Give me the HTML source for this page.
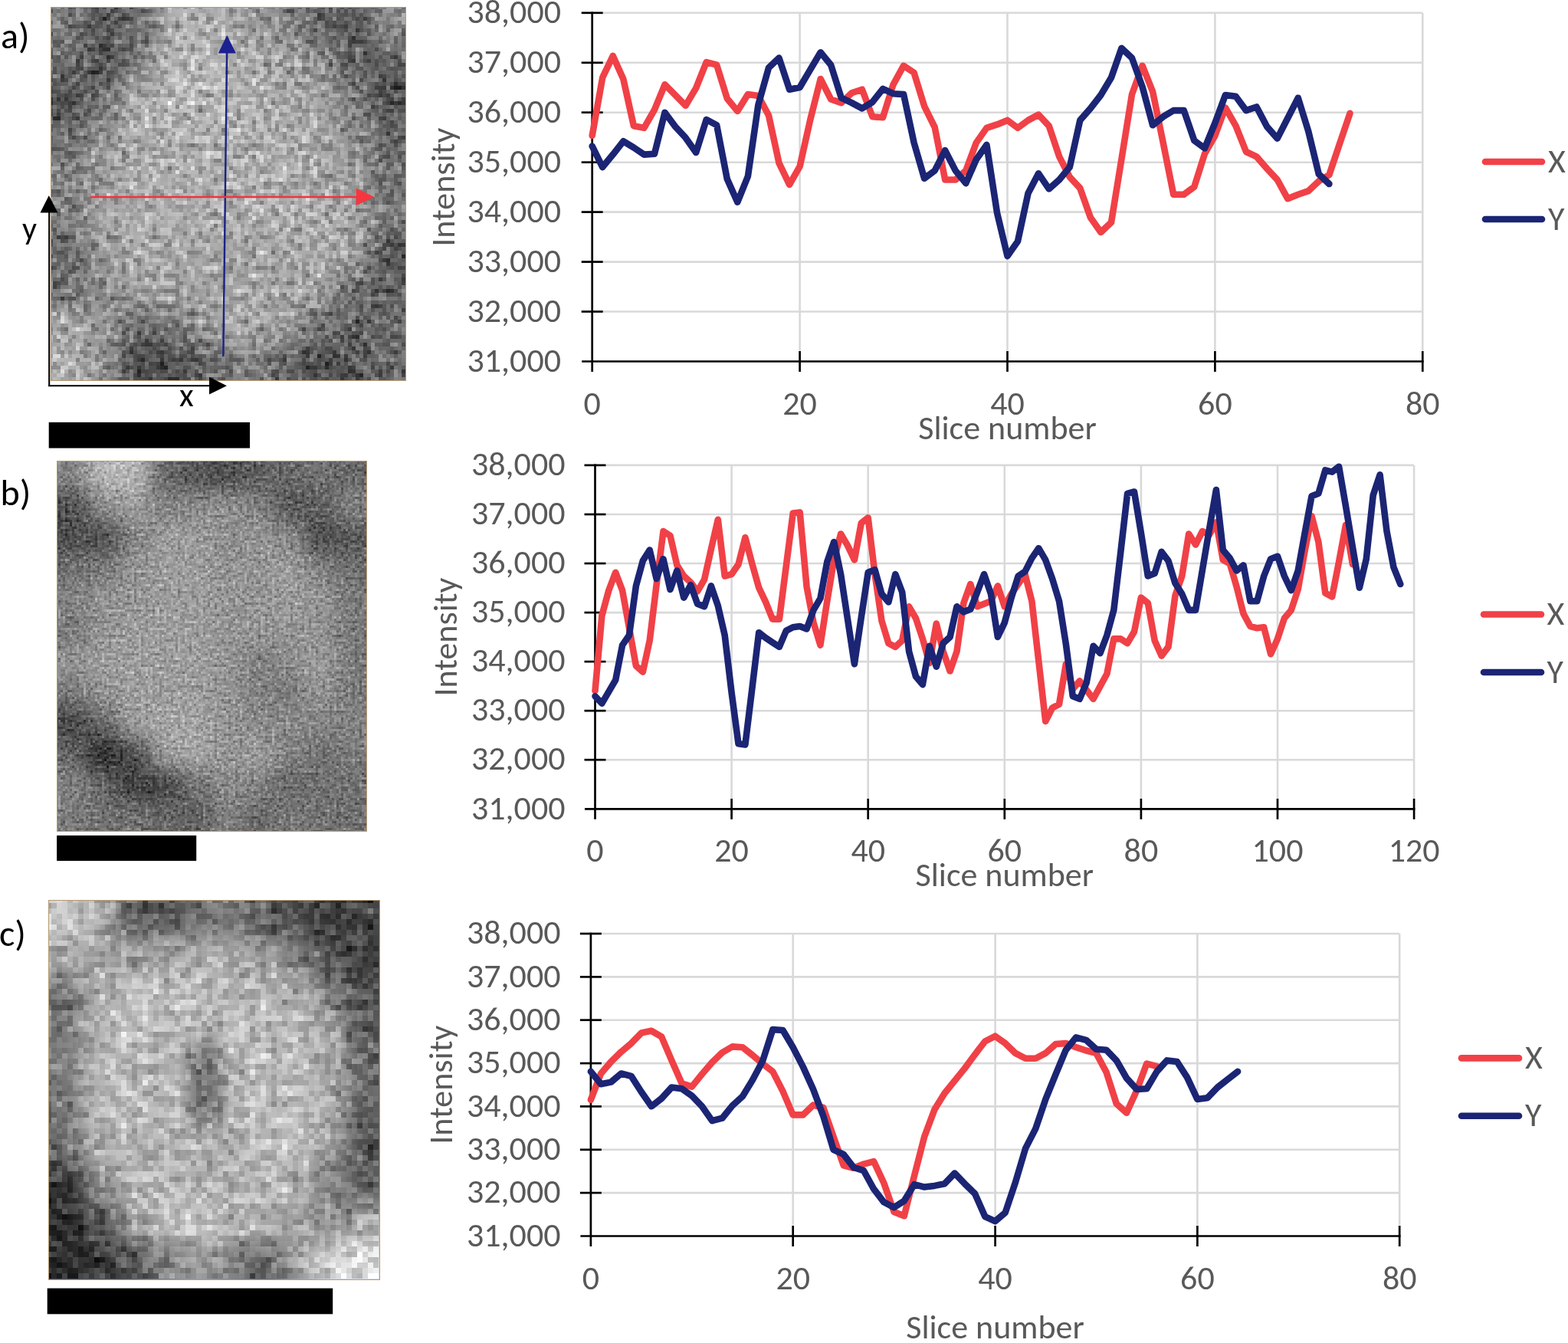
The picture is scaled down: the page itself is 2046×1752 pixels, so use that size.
<!DOCTYPE html>
<html><head><meta charset="utf-8"><title>Intensity profiles</title>
<style>
html,body{margin:0;padding:0;background:#fff;}
body{width:2046px;height:1752px;overflow:hidden;position:relative;}
svg{position:absolute;left:0;top:0;display:block;}
.ch text{font-family:Carlito, "Liberation Sans", sans-serif;font-size:44px;fill:#595959;}
.lb text{font-family:Carlito, "Liberation Sans", sans-serif;font-size:44px;fill:#000;}
</style></head><body>
<svg width="2046" height="1752" viewBox="0 0 2046 1752">
<clipPath id="cla"><rect x="66" y="9" width="464" height="488"/></clipPath>
<filter id="ba" filterUnits="userSpaceOnUse" x="6" y="-51" width="584" height="608" color-interpolation-filters="sRGB"><feGaussianBlur stdDeviation="14.8"/></filter>
<filter id="fa" filterUnits="userSpaceOnUse" x="66" y="9" width="464" height="488" color-interpolation-filters="sRGB">
<feTurbulence type="fractalNoise" baseFrequency="0.1013" numOctaves="2" seed="7" result="t"/>
<feColorMatrix in="t" type="matrix" values="1 0 0 0 0 1 0 0 0 0 1 0 0 0 0 0 0 0 0 1" result="n"/>
<feFlood x="66" y="9" width="1" height="1" flood-color="#fff" result="dot"/>
<feComposite in="dot" in2="dot" operator="over" x="66" y="9" width="5" height="5" result="cell"/>
<feTile in="cell" result="grid"/>
<feComposite in="n" in2="grid" operator="in" result="smp"/>
<feMorphology in="smp" operator="dilate" radius="2" result="pix"/>
<feComposite in="SourceGraphic" in2="pix" operator="arithmetic" k1="0" k2="1" k3="0.75" k4="-0.375"/>
</filter>
<g clip-path="url(#cla)"><g filter="url(#fa)"><g filter="url(#ba)">
<rect x="19.6" y="-39.8" width="47.0" height="49.4" fill="rgb(121,121,121)"/>
<rect x="66.0" y="-39.8" width="47.0" height="49.4" fill="rgb(121,121,121)"/>
<rect x="112.4" y="-39.8" width="47.0" height="49.4" fill="rgb(86,86,86)"/>
<rect x="158.8" y="-39.8" width="47.0" height="49.4" fill="rgb(112,112,112)"/>
<rect x="205.2" y="-39.8" width="47.0" height="49.4" fill="rgb(174,174,174)"/>
<rect x="251.6" y="-39.8" width="47.0" height="49.4" fill="rgb(174,174,174)"/>
<rect x="298.0" y="-39.8" width="47.0" height="49.4" fill="rgb(156,156,156)"/>
<rect x="344.4" y="-39.8" width="47.0" height="49.4" fill="rgb(139,139,139)"/>
<rect x="390.8" y="-39.8" width="47.0" height="49.4" fill="rgb(104,104,104)"/>
<rect x="437.2" y="-39.8" width="47.0" height="49.4" fill="rgb(86,86,86)"/>
<rect x="483.6" y="-39.8" width="47.0" height="49.4" fill="rgb(139,139,139)"/>
<rect x="530.0" y="-39.8" width="47.0" height="49.4" fill="rgb(139,139,139)"/>
<rect x="19.6" y="9.0" width="47.0" height="49.4" fill="rgb(121,121,121)"/>
<rect x="66.0" y="9.0" width="47.0" height="49.4" fill="rgb(121,121,121)"/>
<rect x="112.4" y="9.0" width="47.0" height="49.4" fill="rgb(86,86,86)"/>
<rect x="158.8" y="9.0" width="47.0" height="49.4" fill="rgb(112,112,112)"/>
<rect x="205.2" y="9.0" width="47.0" height="49.4" fill="rgb(174,174,174)"/>
<rect x="251.6" y="9.0" width="47.0" height="49.4" fill="rgb(174,174,174)"/>
<rect x="298.0" y="9.0" width="47.0" height="49.4" fill="rgb(156,156,156)"/>
<rect x="344.4" y="9.0" width="47.0" height="49.4" fill="rgb(139,139,139)"/>
<rect x="390.8" y="9.0" width="47.0" height="49.4" fill="rgb(104,104,104)"/>
<rect x="437.2" y="9.0" width="47.0" height="49.4" fill="rgb(86,86,86)"/>
<rect x="483.6" y="9.0" width="47.0" height="49.4" fill="rgb(139,139,139)"/>
<rect x="530.0" y="9.0" width="47.0" height="49.4" fill="rgb(139,139,139)"/>
<rect x="19.6" y="57.8" width="47.0" height="49.4" fill="rgb(112,112,112)"/>
<rect x="66.0" y="57.8" width="47.0" height="49.4" fill="rgb(112,112,112)"/>
<rect x="112.4" y="57.8" width="47.0" height="49.4" fill="rgb(77,77,77)"/>
<rect x="158.8" y="57.8" width="47.0" height="49.4" fill="rgb(130,130,130)"/>
<rect x="205.2" y="57.8" width="47.0" height="49.4" fill="rgb(182,182,182)"/>
<rect x="251.6" y="57.8" width="47.0" height="49.4" fill="rgb(182,182,182)"/>
<rect x="298.0" y="57.8" width="47.0" height="49.4" fill="rgb(174,174,174)"/>
<rect x="344.4" y="57.8" width="47.0" height="49.4" fill="rgb(165,165,165)"/>
<rect x="390.8" y="57.8" width="47.0" height="49.4" fill="rgb(147,147,147)"/>
<rect x="437.2" y="57.8" width="47.0" height="49.4" fill="rgb(95,95,95)"/>
<rect x="483.6" y="57.8" width="47.0" height="49.4" fill="rgb(95,95,95)"/>
<rect x="530.0" y="57.8" width="47.0" height="49.4" fill="rgb(95,95,95)"/>
<rect x="19.6" y="106.6" width="47.0" height="49.4" fill="rgb(77,77,77)"/>
<rect x="66.0" y="106.6" width="47.0" height="49.4" fill="rgb(77,77,77)"/>
<rect x="112.4" y="106.6" width="47.0" height="49.4" fill="rgb(121,121,121)"/>
<rect x="158.8" y="106.6" width="47.0" height="49.4" fill="rgb(174,174,174)"/>
<rect x="205.2" y="106.6" width="47.0" height="49.4" fill="rgb(182,182,182)"/>
<rect x="251.6" y="106.6" width="47.0" height="49.4" fill="rgb(182,182,182)"/>
<rect x="298.0" y="106.6" width="47.0" height="49.4" fill="rgb(174,174,174)"/>
<rect x="344.4" y="106.6" width="47.0" height="49.4" fill="rgb(165,165,165)"/>
<rect x="390.8" y="106.6" width="47.0" height="49.4" fill="rgb(165,165,165)"/>
<rect x="437.2" y="106.6" width="47.0" height="49.4" fill="rgb(130,130,130)"/>
<rect x="483.6" y="106.6" width="47.0" height="49.4" fill="rgb(77,77,77)"/>
<rect x="530.0" y="106.6" width="47.0" height="49.4" fill="rgb(77,77,77)"/>
<rect x="19.6" y="155.4" width="47.0" height="49.4" fill="rgb(112,112,112)"/>
<rect x="66.0" y="155.4" width="47.0" height="49.4" fill="rgb(112,112,112)"/>
<rect x="112.4" y="155.4" width="47.0" height="49.4" fill="rgb(147,147,147)"/>
<rect x="158.8" y="155.4" width="47.0" height="49.4" fill="rgb(174,174,174)"/>
<rect x="205.2" y="155.4" width="47.0" height="49.4" fill="rgb(174,174,174)"/>
<rect x="251.6" y="155.4" width="47.0" height="49.4" fill="rgb(174,174,174)"/>
<rect x="298.0" y="155.4" width="47.0" height="49.4" fill="rgb(174,174,174)"/>
<rect x="344.4" y="155.4" width="47.0" height="49.4" fill="rgb(174,174,174)"/>
<rect x="390.8" y="155.4" width="47.0" height="49.4" fill="rgb(165,165,165)"/>
<rect x="437.2" y="155.4" width="47.0" height="49.4" fill="rgb(147,147,147)"/>
<rect x="483.6" y="155.4" width="47.0" height="49.4" fill="rgb(104,104,104)"/>
<rect x="530.0" y="155.4" width="47.0" height="49.4" fill="rgb(104,104,104)"/>
<rect x="19.6" y="204.2" width="47.0" height="49.4" fill="rgb(130,130,130)"/>
<rect x="66.0" y="204.2" width="47.0" height="49.4" fill="rgb(130,130,130)"/>
<rect x="112.4" y="204.2" width="47.0" height="49.4" fill="rgb(156,156,156)"/>
<rect x="158.8" y="204.2" width="47.0" height="49.4" fill="rgb(174,174,174)"/>
<rect x="205.2" y="204.2" width="47.0" height="49.4" fill="rgb(174,174,174)"/>
<rect x="251.6" y="204.2" width="47.0" height="49.4" fill="rgb(174,174,174)"/>
<rect x="298.0" y="204.2" width="47.0" height="49.4" fill="rgb(174,174,174)"/>
<rect x="344.4" y="204.2" width="47.0" height="49.4" fill="rgb(174,174,174)"/>
<rect x="390.8" y="204.2" width="47.0" height="49.4" fill="rgb(165,165,165)"/>
<rect x="437.2" y="204.2" width="47.0" height="49.4" fill="rgb(156,156,156)"/>
<rect x="483.6" y="204.2" width="47.0" height="49.4" fill="rgb(112,112,112)"/>
<rect x="530.0" y="204.2" width="47.0" height="49.4" fill="rgb(112,112,112)"/>
<rect x="19.6" y="253.0" width="47.0" height="49.4" fill="rgb(130,130,130)"/>
<rect x="66.0" y="253.0" width="47.0" height="49.4" fill="rgb(130,130,130)"/>
<rect x="112.4" y="253.0" width="47.0" height="49.4" fill="rgb(165,165,165)"/>
<rect x="158.8" y="253.0" width="47.0" height="49.4" fill="rgb(174,174,174)"/>
<rect x="205.2" y="253.0" width="47.0" height="49.4" fill="rgb(174,174,174)"/>
<rect x="251.6" y="253.0" width="47.0" height="49.4" fill="rgb(174,174,174)"/>
<rect x="298.0" y="253.0" width="47.0" height="49.4" fill="rgb(174,174,174)"/>
<rect x="344.4" y="253.0" width="47.0" height="49.4" fill="rgb(174,174,174)"/>
<rect x="390.8" y="253.0" width="47.0" height="49.4" fill="rgb(174,174,174)"/>
<rect x="437.2" y="253.0" width="47.0" height="49.4" fill="rgb(165,165,165)"/>
<rect x="483.6" y="253.0" width="47.0" height="49.4" fill="rgb(121,121,121)"/>
<rect x="530.0" y="253.0" width="47.0" height="49.4" fill="rgb(121,121,121)"/>
<rect x="19.6" y="301.8" width="47.0" height="49.4" fill="rgb(104,104,104)"/>
<rect x="66.0" y="301.8" width="47.0" height="49.4" fill="rgb(104,104,104)"/>
<rect x="112.4" y="301.8" width="47.0" height="49.4" fill="rgb(156,156,156)"/>
<rect x="158.8" y="301.8" width="47.0" height="49.4" fill="rgb(174,174,174)"/>
<rect x="205.2" y="301.8" width="47.0" height="49.4" fill="rgb(165,165,165)"/>
<rect x="251.6" y="301.8" width="47.0" height="49.4" fill="rgb(165,165,165)"/>
<rect x="298.0" y="301.8" width="47.0" height="49.4" fill="rgb(165,165,165)"/>
<rect x="344.4" y="301.8" width="47.0" height="49.4" fill="rgb(165,165,165)"/>
<rect x="390.8" y="301.8" width="47.0" height="49.4" fill="rgb(174,174,174)"/>
<rect x="437.2" y="301.8" width="47.0" height="49.4" fill="rgb(165,165,165)"/>
<rect x="483.6" y="301.8" width="47.0" height="49.4" fill="rgb(86,86,86)"/>
<rect x="530.0" y="301.8" width="47.0" height="49.4" fill="rgb(86,86,86)"/>
<rect x="19.6" y="350.6" width="47.0" height="49.4" fill="rgb(112,112,112)"/>
<rect x="66.0" y="350.6" width="47.0" height="49.4" fill="rgb(112,112,112)"/>
<rect x="112.4" y="350.6" width="47.0" height="49.4" fill="rgb(139,139,139)"/>
<rect x="158.8" y="350.6" width="47.0" height="49.4" fill="rgb(165,165,165)"/>
<rect x="205.2" y="350.6" width="47.0" height="49.4" fill="rgb(165,165,165)"/>
<rect x="251.6" y="350.6" width="47.0" height="49.4" fill="rgb(165,165,165)"/>
<rect x="298.0" y="350.6" width="47.0" height="49.4" fill="rgb(165,165,165)"/>
<rect x="344.4" y="350.6" width="47.0" height="49.4" fill="rgb(165,165,165)"/>
<rect x="390.8" y="350.6" width="47.0" height="49.4" fill="rgb(165,165,165)"/>
<rect x="437.2" y="350.6" width="47.0" height="49.4" fill="rgb(112,112,112)"/>
<rect x="483.6" y="350.6" width="47.0" height="49.4" fill="rgb(95,95,95)"/>
<rect x="530.0" y="350.6" width="47.0" height="49.4" fill="rgb(95,95,95)"/>
<rect x="19.6" y="399.4" width="47.0" height="49.4" fill="rgb(165,165,165)"/>
<rect x="66.0" y="399.4" width="47.0" height="49.4" fill="rgb(165,165,165)"/>
<rect x="112.4" y="399.4" width="47.0" height="49.4" fill="rgb(147,147,147)"/>
<rect x="158.8" y="399.4" width="47.0" height="49.4" fill="rgb(112,112,112)"/>
<rect x="205.2" y="399.4" width="47.0" height="49.4" fill="rgb(121,121,121)"/>
<rect x="251.6" y="399.4" width="47.0" height="49.4" fill="rgb(156,156,156)"/>
<rect x="298.0" y="399.4" width="47.0" height="49.4" fill="rgb(174,174,174)"/>
<rect x="344.4" y="399.4" width="47.0" height="49.4" fill="rgb(156,156,156)"/>
<rect x="390.8" y="399.4" width="47.0" height="49.4" fill="rgb(121,121,121)"/>
<rect x="437.2" y="399.4" width="47.0" height="49.4" fill="rgb(95,95,95)"/>
<rect x="483.6" y="399.4" width="47.0" height="49.4" fill="rgb(112,112,112)"/>
<rect x="530.0" y="399.4" width="47.0" height="49.4" fill="rgb(112,112,112)"/>
<rect x="19.6" y="448.2" width="47.0" height="49.4" fill="rgb(174,174,174)"/>
<rect x="66.0" y="448.2" width="47.0" height="49.4" fill="rgb(174,174,174)"/>
<rect x="112.4" y="448.2" width="47.0" height="49.4" fill="rgb(147,147,147)"/>
<rect x="158.8" y="448.2" width="47.0" height="49.4" fill="rgb(69,69,69)"/>
<rect x="205.2" y="448.2" width="47.0" height="49.4" fill="rgb(77,77,77)"/>
<rect x="251.6" y="448.2" width="47.0" height="49.4" fill="rgb(104,104,104)"/>
<rect x="298.0" y="448.2" width="47.0" height="49.4" fill="rgb(130,130,130)"/>
<rect x="344.4" y="448.2" width="47.0" height="49.4" fill="rgb(104,104,104)"/>
<rect x="390.8" y="448.2" width="47.0" height="49.4" fill="rgb(77,77,77)"/>
<rect x="437.2" y="448.2" width="47.0" height="49.4" fill="rgb(86,86,86)"/>
<rect x="483.6" y="448.2" width="47.0" height="49.4" fill="rgb(104,104,104)"/>
<rect x="530.0" y="448.2" width="47.0" height="49.4" fill="rgb(104,104,104)"/>
<rect x="19.6" y="497.0" width="47.0" height="49.4" fill="rgb(174,174,174)"/>
<rect x="66.0" y="497.0" width="47.0" height="49.4" fill="rgb(174,174,174)"/>
<rect x="112.4" y="497.0" width="47.0" height="49.4" fill="rgb(147,147,147)"/>
<rect x="158.8" y="497.0" width="47.0" height="49.4" fill="rgb(69,69,69)"/>
<rect x="205.2" y="497.0" width="47.0" height="49.4" fill="rgb(77,77,77)"/>
<rect x="251.6" y="497.0" width="47.0" height="49.4" fill="rgb(104,104,104)"/>
<rect x="298.0" y="497.0" width="47.0" height="49.4" fill="rgb(130,130,130)"/>
<rect x="344.4" y="497.0" width="47.0" height="49.4" fill="rgb(104,104,104)"/>
<rect x="390.8" y="497.0" width="47.0" height="49.4" fill="rgb(77,77,77)"/>
<rect x="437.2" y="497.0" width="47.0" height="49.4" fill="rgb(86,86,86)"/>
<rect x="483.6" y="497.0" width="47.0" height="49.4" fill="rgb(104,104,104)"/>
<rect x="530.0" y="497.0" width="47.0" height="49.4" fill="rgb(104,104,104)"/>
</g>
</g></g>
<rect x="66.5" y="9.5" width="463" height="487" fill="none" stroke="#b89a74" stroke-width="1"/>
<clipPath id="clb"><rect x="74" y="601" width="405" height="484"/></clipPath>
<filter id="bb" filterUnits="userSpaceOnUse" x="14" y="541" width="525" height="604" color-interpolation-filters="sRGB"><feGaussianBlur stdDeviation="12.9"/></filter>
<filter id="fb" filterUnits="userSpaceOnUse" x="74" y="601" width="405" height="484" color-interpolation-filters="sRGB">
<feTurbulence type="fractalNoise" baseFrequency="0.2113" numOctaves="2" seed="11" result="t"/>
<feColorMatrix in="t" type="matrix" values="1 0 0 0 0 1 0 0 0 0 1 0 0 0 0 0 0 0 0 1" result="n"/>
<feFlood x="74" y="601" width="1" height="1" flood-color="#fff" result="dot"/>
<feComposite in="dot" in2="dot" operator="over" x="74" y="601" width="3" height="3" result="cell"/>
<feTile in="cell" result="grid"/>
<feComposite in="n" in2="grid" operator="in" result="smp"/>
<feMorphology in="smp" operator="dilate" radius="1" result="pix"/>
<feComposite in="SourceGraphic" in2="pix" operator="arithmetic" k1="0" k2="1" k3="0.55" k4="-0.275"/>
</filter>
<g clip-path="url(#clb)"><g filter="url(#fb)"><g filter="url(#bb)">
<rect x="33.5" y="560.7" width="41.1" height="40.9" fill="rgb(130,130,130)"/>
<rect x="74.0" y="560.7" width="41.1" height="40.9" fill="rgb(130,130,130)"/>
<rect x="114.5" y="560.7" width="41.1" height="40.9" fill="rgb(183,183,183)"/>
<rect x="155.0" y="560.7" width="41.1" height="40.9" fill="rgb(183,183,183)"/>
<rect x="195.5" y="560.7" width="41.1" height="40.9" fill="rgb(104,104,104)"/>
<rect x="236.0" y="560.7" width="41.1" height="40.9" fill="rgb(87,87,87)"/>
<rect x="276.5" y="560.7" width="41.1" height="40.9" fill="rgb(78,78,78)"/>
<rect x="317.0" y="560.7" width="41.1" height="40.9" fill="rgb(95,95,95)"/>
<rect x="357.5" y="560.7" width="41.1" height="40.9" fill="rgb(104,104,104)"/>
<rect x="398.0" y="560.7" width="41.1" height="40.9" fill="rgb(113,113,113)"/>
<rect x="438.5" y="560.7" width="41.1" height="40.9" fill="rgb(104,104,104)"/>
<rect x="479.0" y="560.7" width="41.1" height="40.9" fill="rgb(104,104,104)"/>
<rect x="33.5" y="601.0" width="41.1" height="40.9" fill="rgb(130,130,130)"/>
<rect x="74.0" y="601.0" width="41.1" height="40.9" fill="rgb(130,130,130)"/>
<rect x="114.5" y="601.0" width="41.1" height="40.9" fill="rgb(183,183,183)"/>
<rect x="155.0" y="601.0" width="41.1" height="40.9" fill="rgb(183,183,183)"/>
<rect x="195.5" y="601.0" width="41.1" height="40.9" fill="rgb(104,104,104)"/>
<rect x="236.0" y="601.0" width="41.1" height="40.9" fill="rgb(87,87,87)"/>
<rect x="276.5" y="601.0" width="41.1" height="40.9" fill="rgb(78,78,78)"/>
<rect x="317.0" y="601.0" width="41.1" height="40.9" fill="rgb(95,95,95)"/>
<rect x="357.5" y="601.0" width="41.1" height="40.9" fill="rgb(104,104,104)"/>
<rect x="398.0" y="601.0" width="41.1" height="40.9" fill="rgb(113,113,113)"/>
<rect x="438.5" y="601.0" width="41.1" height="40.9" fill="rgb(104,104,104)"/>
<rect x="479.0" y="601.0" width="41.1" height="40.9" fill="rgb(104,104,104)"/>
<rect x="33.5" y="641.3" width="41.1" height="40.9" fill="rgb(78,78,78)"/>
<rect x="74.0" y="641.3" width="41.1" height="40.9" fill="rgb(78,78,78)"/>
<rect x="114.5" y="641.3" width="41.1" height="40.9" fill="rgb(139,139,139)"/>
<rect x="155.0" y="641.3" width="41.1" height="40.9" fill="rgb(157,157,157)"/>
<rect x="195.5" y="641.3" width="41.1" height="40.9" fill="rgb(130,130,130)"/>
<rect x="236.0" y="641.3" width="41.1" height="40.9" fill="rgb(139,139,139)"/>
<rect x="276.5" y="641.3" width="41.1" height="40.9" fill="rgb(148,148,148)"/>
<rect x="317.0" y="641.3" width="41.1" height="40.9" fill="rgb(130,130,130)"/>
<rect x="357.5" y="641.3" width="41.1" height="40.9" fill="rgb(87,87,87)"/>
<rect x="398.0" y="641.3" width="41.1" height="40.9" fill="rgb(95,95,95)"/>
<rect x="438.5" y="641.3" width="41.1" height="40.9" fill="rgb(130,130,130)"/>
<rect x="479.0" y="641.3" width="41.1" height="40.9" fill="rgb(130,130,130)"/>
<rect x="33.5" y="681.7" width="41.1" height="40.9" fill="rgb(78,78,78)"/>
<rect x="74.0" y="681.7" width="41.1" height="40.9" fill="rgb(78,78,78)"/>
<rect x="114.5" y="681.7" width="41.1" height="40.9" fill="rgb(78,78,78)"/>
<rect x="155.0" y="681.7" width="41.1" height="40.9" fill="rgb(130,130,130)"/>
<rect x="195.5" y="681.7" width="41.1" height="40.9" fill="rgb(157,157,157)"/>
<rect x="236.0" y="681.7" width="41.1" height="40.9" fill="rgb(157,157,157)"/>
<rect x="276.5" y="681.7" width="41.1" height="40.9" fill="rgb(139,139,139)"/>
<rect x="317.0" y="681.7" width="41.1" height="40.9" fill="rgb(148,148,148)"/>
<rect x="357.5" y="681.7" width="41.1" height="40.9" fill="rgb(139,139,139)"/>
<rect x="398.0" y="681.7" width="41.1" height="40.9" fill="rgb(78,78,78)"/>
<rect x="438.5" y="681.7" width="41.1" height="40.9" fill="rgb(87,87,87)"/>
<rect x="479.0" y="681.7" width="41.1" height="40.9" fill="rgb(87,87,87)"/>
<rect x="33.5" y="722.0" width="41.1" height="40.9" fill="rgb(113,113,113)"/>
<rect x="74.0" y="722.0" width="41.1" height="40.9" fill="rgb(113,113,113)"/>
<rect x="114.5" y="722.0" width="41.1" height="40.9" fill="rgb(122,122,122)"/>
<rect x="155.0" y="722.0" width="41.1" height="40.9" fill="rgb(148,148,148)"/>
<rect x="195.5" y="722.0" width="41.1" height="40.9" fill="rgb(157,157,157)"/>
<rect x="236.0" y="722.0" width="41.1" height="40.9" fill="rgb(157,157,157)"/>
<rect x="276.5" y="722.0" width="41.1" height="40.9" fill="rgb(148,148,148)"/>
<rect x="317.0" y="722.0" width="41.1" height="40.9" fill="rgb(148,148,148)"/>
<rect x="357.5" y="722.0" width="41.1" height="40.9" fill="rgb(157,157,157)"/>
<rect x="398.0" y="722.0" width="41.1" height="40.9" fill="rgb(130,130,130)"/>
<rect x="438.5" y="722.0" width="41.1" height="40.9" fill="rgb(113,113,113)"/>
<rect x="479.0" y="722.0" width="41.1" height="40.9" fill="rgb(113,113,113)"/>
<rect x="33.5" y="762.3" width="41.1" height="40.9" fill="rgb(130,130,130)"/>
<rect x="74.0" y="762.3" width="41.1" height="40.9" fill="rgb(130,130,130)"/>
<rect x="114.5" y="762.3" width="41.1" height="40.9" fill="rgb(148,148,148)"/>
<rect x="155.0" y="762.3" width="41.1" height="40.9" fill="rgb(148,148,148)"/>
<rect x="195.5" y="762.3" width="41.1" height="40.9" fill="rgb(157,157,157)"/>
<rect x="236.0" y="762.3" width="41.1" height="40.9" fill="rgb(157,157,157)"/>
<rect x="276.5" y="762.3" width="41.1" height="40.9" fill="rgb(148,148,148)"/>
<rect x="317.0" y="762.3" width="41.1" height="40.9" fill="rgb(148,148,148)"/>
<rect x="357.5" y="762.3" width="41.1" height="40.9" fill="rgb(157,157,157)"/>
<rect x="398.0" y="762.3" width="41.1" height="40.9" fill="rgb(148,148,148)"/>
<rect x="438.5" y="762.3" width="41.1" height="40.9" fill="rgb(122,122,122)"/>
<rect x="479.0" y="762.3" width="41.1" height="40.9" fill="rgb(122,122,122)"/>
<rect x="33.5" y="802.7" width="41.1" height="40.9" fill="rgb(122,122,122)"/>
<rect x="74.0" y="802.7" width="41.1" height="40.9" fill="rgb(122,122,122)"/>
<rect x="114.5" y="802.7" width="41.1" height="40.9" fill="rgb(148,148,148)"/>
<rect x="155.0" y="802.7" width="41.1" height="40.9" fill="rgb(157,157,157)"/>
<rect x="195.5" y="802.7" width="41.1" height="40.9" fill="rgb(157,157,157)"/>
<rect x="236.0" y="802.7" width="41.1" height="40.9" fill="rgb(157,157,157)"/>
<rect x="276.5" y="802.7" width="41.1" height="40.9" fill="rgb(148,148,148)"/>
<rect x="317.0" y="802.7" width="41.1" height="40.9" fill="rgb(148,148,148)"/>
<rect x="357.5" y="802.7" width="41.1" height="40.9" fill="rgb(148,148,148)"/>
<rect x="398.0" y="802.7" width="41.1" height="40.9" fill="rgb(148,148,148)"/>
<rect x="438.5" y="802.7" width="41.1" height="40.9" fill="rgb(122,122,122)"/>
<rect x="479.0" y="802.7" width="41.1" height="40.9" fill="rgb(122,122,122)"/>
<rect x="33.5" y="843.0" width="41.1" height="40.9" fill="rgb(148,148,148)"/>
<rect x="74.0" y="843.0" width="41.1" height="40.9" fill="rgb(148,148,148)"/>
<rect x="114.5" y="843.0" width="41.1" height="40.9" fill="rgb(157,157,157)"/>
<rect x="155.0" y="843.0" width="41.1" height="40.9" fill="rgb(157,157,157)"/>
<rect x="195.5" y="843.0" width="41.1" height="40.9" fill="rgb(157,157,157)"/>
<rect x="236.0" y="843.0" width="41.1" height="40.9" fill="rgb(157,157,157)"/>
<rect x="276.5" y="843.0" width="41.1" height="40.9" fill="rgb(148,148,148)"/>
<rect x="317.0" y="843.0" width="41.1" height="40.9" fill="rgb(130,130,130)"/>
<rect x="357.5" y="843.0" width="41.1" height="40.9" fill="rgb(139,139,139)"/>
<rect x="398.0" y="843.0" width="41.1" height="40.9" fill="rgb(157,157,157)"/>
<rect x="438.5" y="843.0" width="41.1" height="40.9" fill="rgb(122,122,122)"/>
<rect x="479.0" y="843.0" width="41.1" height="40.9" fill="rgb(122,122,122)"/>
<rect x="33.5" y="883.3" width="41.1" height="40.9" fill="rgb(122,122,122)"/>
<rect x="74.0" y="883.3" width="41.1" height="40.9" fill="rgb(122,122,122)"/>
<rect x="114.5" y="883.3" width="41.1" height="40.9" fill="rgb(148,148,148)"/>
<rect x="155.0" y="883.3" width="41.1" height="40.9" fill="rgb(157,157,157)"/>
<rect x="195.5" y="883.3" width="41.1" height="40.9" fill="rgb(157,157,157)"/>
<rect x="236.0" y="883.3" width="41.1" height="40.9" fill="rgb(157,157,157)"/>
<rect x="276.5" y="883.3" width="41.1" height="40.9" fill="rgb(148,148,148)"/>
<rect x="317.0" y="883.3" width="41.1" height="40.9" fill="rgb(130,130,130)"/>
<rect x="357.5" y="883.3" width="41.1" height="40.9" fill="rgb(122,122,122)"/>
<rect x="398.0" y="883.3" width="41.1" height="40.9" fill="rgb(148,148,148)"/>
<rect x="438.5" y="883.3" width="41.1" height="40.9" fill="rgb(122,122,122)"/>
<rect x="479.0" y="883.3" width="41.1" height="40.9" fill="rgb(122,122,122)"/>
<rect x="33.5" y="923.7" width="41.1" height="40.9" fill="rgb(69,69,69)"/>
<rect x="74.0" y="923.7" width="41.1" height="40.9" fill="rgb(69,69,69)"/>
<rect x="114.5" y="923.7" width="41.1" height="40.9" fill="rgb(104,104,104)"/>
<rect x="155.0" y="923.7" width="41.1" height="40.9" fill="rgb(157,157,157)"/>
<rect x="195.5" y="923.7" width="41.1" height="40.9" fill="rgb(165,165,165)"/>
<rect x="236.0" y="923.7" width="41.1" height="40.9" fill="rgb(165,165,165)"/>
<rect x="276.5" y="923.7" width="41.1" height="40.9" fill="rgb(148,148,148)"/>
<rect x="317.0" y="923.7" width="41.1" height="40.9" fill="rgb(139,139,139)"/>
<rect x="357.5" y="923.7" width="41.1" height="40.9" fill="rgb(139,139,139)"/>
<rect x="398.0" y="923.7" width="41.1" height="40.9" fill="rgb(130,130,130)"/>
<rect x="438.5" y="923.7" width="41.1" height="40.9" fill="rgb(130,130,130)"/>
<rect x="479.0" y="923.7" width="41.1" height="40.9" fill="rgb(130,130,130)"/>
<rect x="33.5" y="964.0" width="41.1" height="40.9" fill="rgb(104,104,104)"/>
<rect x="74.0" y="964.0" width="41.1" height="40.9" fill="rgb(104,104,104)"/>
<rect x="114.5" y="964.0" width="41.1" height="40.9" fill="rgb(43,43,43)"/>
<rect x="155.0" y="964.0" width="41.1" height="40.9" fill="rgb(78,78,78)"/>
<rect x="195.5" y="964.0" width="41.1" height="40.9" fill="rgb(157,157,157)"/>
<rect x="236.0" y="964.0" width="41.1" height="40.9" fill="rgb(165,165,165)"/>
<rect x="276.5" y="964.0" width="41.1" height="40.9" fill="rgb(148,148,148)"/>
<rect x="317.0" y="964.0" width="41.1" height="40.9" fill="rgb(157,157,157)"/>
<rect x="357.5" y="964.0" width="41.1" height="40.9" fill="rgb(130,130,130)"/>
<rect x="398.0" y="964.0" width="41.1" height="40.9" fill="rgb(113,113,113)"/>
<rect x="438.5" y="964.0" width="41.1" height="40.9" fill="rgb(122,122,122)"/>
<rect x="479.0" y="964.0" width="41.1" height="40.9" fill="rgb(122,122,122)"/>
<rect x="33.5" y="1004.3" width="41.1" height="40.9" fill="rgb(130,130,130)"/>
<rect x="74.0" y="1004.3" width="41.1" height="40.9" fill="rgb(130,130,130)"/>
<rect x="114.5" y="1004.3" width="41.1" height="40.9" fill="rgb(104,104,104)"/>
<rect x="155.0" y="1004.3" width="41.1" height="40.9" fill="rgb(60,60,60)"/>
<rect x="195.5" y="1004.3" width="41.1" height="40.9" fill="rgb(69,69,69)"/>
<rect x="236.0" y="1004.3" width="41.1" height="40.9" fill="rgb(113,113,113)"/>
<rect x="276.5" y="1004.3" width="41.1" height="40.9" fill="rgb(139,139,139)"/>
<rect x="317.0" y="1004.3" width="41.1" height="40.9" fill="rgb(130,130,130)"/>
<rect x="357.5" y="1004.3" width="41.1" height="40.9" fill="rgb(104,104,104)"/>
<rect x="398.0" y="1004.3" width="41.1" height="40.9" fill="rgb(113,113,113)"/>
<rect x="438.5" y="1004.3" width="41.1" height="40.9" fill="rgb(113,113,113)"/>
<rect x="479.0" y="1004.3" width="41.1" height="40.9" fill="rgb(113,113,113)"/>
<rect x="33.5" y="1044.7" width="41.1" height="40.9" fill="rgb(122,122,122)"/>
<rect x="74.0" y="1044.7" width="41.1" height="40.9" fill="rgb(122,122,122)"/>
<rect x="114.5" y="1044.7" width="41.1" height="40.9" fill="rgb(113,113,113)"/>
<rect x="155.0" y="1044.7" width="41.1" height="40.9" fill="rgb(113,113,113)"/>
<rect x="195.5" y="1044.7" width="41.1" height="40.9" fill="rgb(104,104,104)"/>
<rect x="236.0" y="1044.7" width="41.1" height="40.9" fill="rgb(95,95,95)"/>
<rect x="276.5" y="1044.7" width="41.1" height="40.9" fill="rgb(130,130,130)"/>
<rect x="317.0" y="1044.7" width="41.1" height="40.9" fill="rgb(104,104,104)"/>
<rect x="357.5" y="1044.7" width="41.1" height="40.9" fill="rgb(122,122,122)"/>
<rect x="398.0" y="1044.7" width="41.1" height="40.9" fill="rgb(113,113,113)"/>
<rect x="438.5" y="1044.7" width="41.1" height="40.9" fill="rgb(113,113,113)"/>
<rect x="479.0" y="1044.7" width="41.1" height="40.9" fill="rgb(113,113,113)"/>
<rect x="33.5" y="1085.0" width="41.1" height="40.9" fill="rgb(122,122,122)"/>
<rect x="74.0" y="1085.0" width="41.1" height="40.9" fill="rgb(122,122,122)"/>
<rect x="114.5" y="1085.0" width="41.1" height="40.9" fill="rgb(113,113,113)"/>
<rect x="155.0" y="1085.0" width="41.1" height="40.9" fill="rgb(113,113,113)"/>
<rect x="195.5" y="1085.0" width="41.1" height="40.9" fill="rgb(104,104,104)"/>
<rect x="236.0" y="1085.0" width="41.1" height="40.9" fill="rgb(95,95,95)"/>
<rect x="276.5" y="1085.0" width="41.1" height="40.9" fill="rgb(130,130,130)"/>
<rect x="317.0" y="1085.0" width="41.1" height="40.9" fill="rgb(104,104,104)"/>
<rect x="357.5" y="1085.0" width="41.1" height="40.9" fill="rgb(122,122,122)"/>
<rect x="398.0" y="1085.0" width="41.1" height="40.9" fill="rgb(113,113,113)"/>
<rect x="438.5" y="1085.0" width="41.1" height="40.9" fill="rgb(113,113,113)"/>
<rect x="479.0" y="1085.0" width="41.1" height="40.9" fill="rgb(113,113,113)"/>
</g>
</g></g>
<rect x="74.5" y="601.5" width="404" height="483" fill="none" stroke="#b89a74" stroke-width="1"/>
<clipPath id="clc"><rect x="63" y="1174" width="433" height="496"/></clipPath>
<filter id="bc" filterUnits="userSpaceOnUse" x="3" y="1114" width="553" height="616" color-interpolation-filters="sRGB"><feGaussianBlur stdDeviation="13.9"/></filter>
<filter id="sc0" x="-100%" y="-100%" width="300%" height="300%" color-interpolation-filters="sRGB"><feGaussianBlur stdDeviation="9"/></filter>
<filter id="fc" filterUnits="userSpaceOnUse" x="63" y="1174" width="433" height="496" color-interpolation-filters="sRGB">
<feTurbulence type="fractalNoise" baseFrequency="0.0713" numOctaves="2" seed="5" result="t"/>
<feColorMatrix in="t" type="matrix" values="1 0 0 0 0 1 0 0 0 0 1 0 0 0 0 0 0 0 0 1" result="n"/>
<feFlood x="63" y="1174" width="1" height="1" flood-color="#fff" result="dot"/>
<feComposite in="dot" in2="dot" operator="over" x="63" y="1174" width="7" height="7" result="cell"/>
<feTile in="cell" result="grid"/>
<feComposite in="n" in2="grid" operator="in" result="smp"/>
<feMorphology in="smp" operator="dilate" radius="3" result="pix"/>
<feComposite in="SourceGraphic" in2="pix" operator="arithmetic" k1="0" k2="1" k3="0.6" k4="-0.300"/>
</filter>
<g clip-path="url(#clc)"><g filter="url(#fc)"><g filter="url(#bc)">
<rect x="19.7" y="1124.4" width="43.9" height="50.2" fill="rgb(202,202,202)"/>
<rect x="63.0" y="1124.4" width="43.9" height="50.2" fill="rgb(202,202,202)"/>
<rect x="106.3" y="1124.4" width="43.9" height="50.2" fill="rgb(176,176,176)"/>
<rect x="149.6" y="1124.4" width="43.9" height="50.2" fill="rgb(98,98,98)"/>
<rect x="192.9" y="1124.4" width="43.9" height="50.2" fill="rgb(91,91,91)"/>
<rect x="236.2" y="1124.4" width="43.9" height="50.2" fill="rgb(111,111,111)"/>
<rect x="279.5" y="1124.4" width="43.9" height="50.2" fill="rgb(124,124,124)"/>
<rect x="322.8" y="1124.4" width="43.9" height="50.2" fill="rgb(98,98,98)"/>
<rect x="366.1" y="1124.4" width="43.9" height="50.2" fill="rgb(78,78,78)"/>
<rect x="409.4" y="1124.4" width="43.9" height="50.2" fill="rgb(59,59,59)"/>
<rect x="452.7" y="1124.4" width="43.9" height="50.2" fill="rgb(65,65,65)"/>
<rect x="496.0" y="1124.4" width="43.9" height="50.2" fill="rgb(65,65,65)"/>
<rect x="19.7" y="1174.0" width="43.9" height="50.2" fill="rgb(202,202,202)"/>
<rect x="63.0" y="1174.0" width="43.9" height="50.2" fill="rgb(202,202,202)"/>
<rect x="106.3" y="1174.0" width="43.9" height="50.2" fill="rgb(176,176,176)"/>
<rect x="149.6" y="1174.0" width="43.9" height="50.2" fill="rgb(98,98,98)"/>
<rect x="192.9" y="1174.0" width="43.9" height="50.2" fill="rgb(91,91,91)"/>
<rect x="236.2" y="1174.0" width="43.9" height="50.2" fill="rgb(111,111,111)"/>
<rect x="279.5" y="1174.0" width="43.9" height="50.2" fill="rgb(124,124,124)"/>
<rect x="322.8" y="1174.0" width="43.9" height="50.2" fill="rgb(98,98,98)"/>
<rect x="366.1" y="1174.0" width="43.9" height="50.2" fill="rgb(78,78,78)"/>
<rect x="409.4" y="1174.0" width="43.9" height="50.2" fill="rgb(59,59,59)"/>
<rect x="452.7" y="1174.0" width="43.9" height="50.2" fill="rgb(65,65,65)"/>
<rect x="496.0" y="1174.0" width="43.9" height="50.2" fill="rgb(65,65,65)"/>
<rect x="19.7" y="1223.6" width="43.9" height="50.2" fill="rgb(169,169,169)"/>
<rect x="63.0" y="1223.6" width="43.9" height="50.2" fill="rgb(169,169,169)"/>
<rect x="106.3" y="1223.6" width="43.9" height="50.2" fill="rgb(169,169,169)"/>
<rect x="149.6" y="1223.6" width="43.9" height="50.2" fill="rgb(156,156,156)"/>
<rect x="192.9" y="1223.6" width="43.9" height="50.2" fill="rgb(169,169,169)"/>
<rect x="236.2" y="1223.6" width="43.9" height="50.2" fill="rgb(176,176,176)"/>
<rect x="279.5" y="1223.6" width="43.9" height="50.2" fill="rgb(169,169,169)"/>
<rect x="322.8" y="1223.6" width="43.9" height="50.2" fill="rgb(156,156,156)"/>
<rect x="366.1" y="1223.6" width="43.9" height="50.2" fill="rgb(124,124,124)"/>
<rect x="409.4" y="1223.6" width="43.9" height="50.2" fill="rgb(85,85,85)"/>
<rect x="452.7" y="1223.6" width="43.9" height="50.2" fill="rgb(65,65,65)"/>
<rect x="496.0" y="1223.6" width="43.9" height="50.2" fill="rgb(65,65,65)"/>
<rect x="19.7" y="1273.2" width="43.9" height="50.2" fill="rgb(111,111,111)"/>
<rect x="63.0" y="1273.2" width="43.9" height="50.2" fill="rgb(111,111,111)"/>
<rect x="106.3" y="1273.2" width="43.9" height="50.2" fill="rgb(169,169,169)"/>
<rect x="149.6" y="1273.2" width="43.9" height="50.2" fill="rgb(195,195,195)"/>
<rect x="192.9" y="1273.2" width="43.9" height="50.2" fill="rgb(189,189,189)"/>
<rect x="236.2" y="1273.2" width="43.9" height="50.2" fill="rgb(189,189,189)"/>
<rect x="279.5" y="1273.2" width="43.9" height="50.2" fill="rgb(182,182,182)"/>
<rect x="322.8" y="1273.2" width="43.9" height="50.2" fill="rgb(182,182,182)"/>
<rect x="366.1" y="1273.2" width="43.9" height="50.2" fill="rgb(176,176,176)"/>
<rect x="409.4" y="1273.2" width="43.9" height="50.2" fill="rgb(130,130,130)"/>
<rect x="452.7" y="1273.2" width="43.9" height="50.2" fill="rgb(78,78,78)"/>
<rect x="496.0" y="1273.2" width="43.9" height="50.2" fill="rgb(78,78,78)"/>
<rect x="19.7" y="1322.8" width="43.9" height="50.2" fill="rgb(124,124,124)"/>
<rect x="63.0" y="1322.8" width="43.9" height="50.2" fill="rgb(124,124,124)"/>
<rect x="106.3" y="1322.8" width="43.9" height="50.2" fill="rgb(182,182,182)"/>
<rect x="149.6" y="1322.8" width="43.9" height="50.2" fill="rgb(195,195,195)"/>
<rect x="192.9" y="1322.8" width="43.9" height="50.2" fill="rgb(182,182,182)"/>
<rect x="236.2" y="1322.8" width="43.9" height="50.2" fill="rgb(182,182,182)"/>
<rect x="279.5" y="1322.8" width="43.9" height="50.2" fill="rgb(189,189,189)"/>
<rect x="322.8" y="1322.8" width="43.9" height="50.2" fill="rgb(182,182,182)"/>
<rect x="366.1" y="1322.8" width="43.9" height="50.2" fill="rgb(189,189,189)"/>
<rect x="409.4" y="1322.8" width="43.9" height="50.2" fill="rgb(169,169,169)"/>
<rect x="452.7" y="1322.8" width="43.9" height="50.2" fill="rgb(91,91,91)"/>
<rect x="496.0" y="1322.8" width="43.9" height="50.2" fill="rgb(91,91,91)"/>
<rect x="19.7" y="1372.4" width="43.9" height="50.2" fill="rgb(124,124,124)"/>
<rect x="63.0" y="1372.4" width="43.9" height="50.2" fill="rgb(124,124,124)"/>
<rect x="106.3" y="1372.4" width="43.9" height="50.2" fill="rgb(182,182,182)"/>
<rect x="149.6" y="1372.4" width="43.9" height="50.2" fill="rgb(182,182,182)"/>
<rect x="192.9" y="1372.4" width="43.9" height="50.2" fill="rgb(182,182,182)"/>
<rect x="236.2" y="1372.4" width="43.9" height="50.2" fill="rgb(182,182,182)"/>
<rect x="279.5" y="1372.4" width="43.9" height="50.2" fill="rgb(182,182,182)"/>
<rect x="322.8" y="1372.4" width="43.9" height="50.2" fill="rgb(189,189,189)"/>
<rect x="366.1" y="1372.4" width="43.9" height="50.2" fill="rgb(182,182,182)"/>
<rect x="409.4" y="1372.4" width="43.9" height="50.2" fill="rgb(169,169,169)"/>
<rect x="452.7" y="1372.4" width="43.9" height="50.2" fill="rgb(104,104,104)"/>
<rect x="496.0" y="1372.4" width="43.9" height="50.2" fill="rgb(104,104,104)"/>
<rect x="19.7" y="1422.0" width="43.9" height="50.2" fill="rgb(117,117,117)"/>
<rect x="63.0" y="1422.0" width="43.9" height="50.2" fill="rgb(117,117,117)"/>
<rect x="106.3" y="1422.0" width="43.9" height="50.2" fill="rgb(182,182,182)"/>
<rect x="149.6" y="1422.0" width="43.9" height="50.2" fill="rgb(189,189,189)"/>
<rect x="192.9" y="1422.0" width="43.9" height="50.2" fill="rgb(182,182,182)"/>
<rect x="236.2" y="1422.0" width="43.9" height="50.2" fill="rgb(182,182,182)"/>
<rect x="279.5" y="1422.0" width="43.9" height="50.2" fill="rgb(182,182,182)"/>
<rect x="322.8" y="1422.0" width="43.9" height="50.2" fill="rgb(189,189,189)"/>
<rect x="366.1" y="1422.0" width="43.9" height="50.2" fill="rgb(195,195,195)"/>
<rect x="409.4" y="1422.0" width="43.9" height="50.2" fill="rgb(169,169,169)"/>
<rect x="452.7" y="1422.0" width="43.9" height="50.2" fill="rgb(98,98,98)"/>
<rect x="496.0" y="1422.0" width="43.9" height="50.2" fill="rgb(98,98,98)"/>
<rect x="19.7" y="1471.6" width="43.9" height="50.2" fill="rgb(104,104,104)"/>
<rect x="63.0" y="1471.6" width="43.9" height="50.2" fill="rgb(104,104,104)"/>
<rect x="106.3" y="1471.6" width="43.9" height="50.2" fill="rgb(176,176,176)"/>
<rect x="149.6" y="1471.6" width="43.9" height="50.2" fill="rgb(182,182,182)"/>
<rect x="192.9" y="1471.6" width="43.9" height="50.2" fill="rgb(176,176,176)"/>
<rect x="236.2" y="1471.6" width="43.9" height="50.2" fill="rgb(176,176,176)"/>
<rect x="279.5" y="1471.6" width="43.9" height="50.2" fill="rgb(169,169,169)"/>
<rect x="322.8" y="1471.6" width="43.9" height="50.2" fill="rgb(189,189,189)"/>
<rect x="366.1" y="1471.6" width="43.9" height="50.2" fill="rgb(189,189,189)"/>
<rect x="409.4" y="1471.6" width="43.9" height="50.2" fill="rgb(156,156,156)"/>
<rect x="452.7" y="1471.6" width="43.9" height="50.2" fill="rgb(85,85,85)"/>
<rect x="496.0" y="1471.6" width="43.9" height="50.2" fill="rgb(85,85,85)"/>
<rect x="19.7" y="1521.2" width="43.9" height="50.2" fill="rgb(52,52,52)"/>
<rect x="63.0" y="1521.2" width="43.9" height="50.2" fill="rgb(52,52,52)"/>
<rect x="106.3" y="1521.2" width="43.9" height="50.2" fill="rgb(130,130,130)"/>
<rect x="149.6" y="1521.2" width="43.9" height="50.2" fill="rgb(182,182,182)"/>
<rect x="192.9" y="1521.2" width="43.9" height="50.2" fill="rgb(182,182,182)"/>
<rect x="236.2" y="1521.2" width="43.9" height="50.2" fill="rgb(182,182,182)"/>
<rect x="279.5" y="1521.2" width="43.9" height="50.2" fill="rgb(182,182,182)"/>
<rect x="322.8" y="1521.2" width="43.9" height="50.2" fill="rgb(182,182,182)"/>
<rect x="366.1" y="1521.2" width="43.9" height="50.2" fill="rgb(176,176,176)"/>
<rect x="409.4" y="1521.2" width="43.9" height="50.2" fill="rgb(124,124,124)"/>
<rect x="452.7" y="1521.2" width="43.9" height="50.2" fill="rgb(98,98,98)"/>
<rect x="496.0" y="1521.2" width="43.9" height="50.2" fill="rgb(98,98,98)"/>
<rect x="19.7" y="1570.8" width="43.9" height="50.2" fill="rgb(42,42,42)"/>
<rect x="63.0" y="1570.8" width="43.9" height="50.2" fill="rgb(42,42,42)"/>
<rect x="106.3" y="1570.8" width="43.9" height="50.2" fill="rgb(85,85,85)"/>
<rect x="149.6" y="1570.8" width="43.9" height="50.2" fill="rgb(150,150,150)"/>
<rect x="192.9" y="1570.8" width="43.9" height="50.2" fill="rgb(195,195,195)"/>
<rect x="236.2" y="1570.8" width="43.9" height="50.2" fill="rgb(195,195,195)"/>
<rect x="279.5" y="1570.8" width="43.9" height="50.2" fill="rgb(176,176,176)"/>
<rect x="322.8" y="1570.8" width="43.9" height="50.2" fill="rgb(182,182,182)"/>
<rect x="366.1" y="1570.8" width="43.9" height="50.2" fill="rgb(163,163,163)"/>
<rect x="409.4" y="1570.8" width="43.9" height="50.2" fill="rgb(143,143,143)"/>
<rect x="452.7" y="1570.8" width="43.9" height="50.2" fill="rgb(176,176,176)"/>
<rect x="496.0" y="1570.8" width="43.9" height="50.2" fill="rgb(176,176,176)"/>
<rect x="19.7" y="1620.4" width="43.9" height="50.2" fill="rgb(46,46,46)"/>
<rect x="63.0" y="1620.4" width="43.9" height="50.2" fill="rgb(46,46,46)"/>
<rect x="106.3" y="1620.4" width="43.9" height="50.2" fill="rgb(46,46,46)"/>
<rect x="149.6" y="1620.4" width="43.9" height="50.2" fill="rgb(85,85,85)"/>
<rect x="192.9" y="1620.4" width="43.9" height="50.2" fill="rgb(124,124,124)"/>
<rect x="236.2" y="1620.4" width="43.9" height="50.2" fill="rgb(156,156,156)"/>
<rect x="279.5" y="1620.4" width="43.9" height="50.2" fill="rgb(130,130,130)"/>
<rect x="322.8" y="1620.4" width="43.9" height="50.2" fill="rgb(98,98,98)"/>
<rect x="366.1" y="1620.4" width="43.9" height="50.2" fill="rgb(156,156,156)"/>
<rect x="409.4" y="1620.4" width="43.9" height="50.2" fill="rgb(215,215,215)"/>
<rect x="452.7" y="1620.4" width="43.9" height="50.2" fill="rgb(221,221,221)"/>
<rect x="496.0" y="1620.4" width="43.9" height="50.2" fill="rgb(221,221,221)"/>
<rect x="19.7" y="1670.0" width="43.9" height="50.2" fill="rgb(46,46,46)"/>
<rect x="63.0" y="1670.0" width="43.9" height="50.2" fill="rgb(46,46,46)"/>
<rect x="106.3" y="1670.0" width="43.9" height="50.2" fill="rgb(46,46,46)"/>
<rect x="149.6" y="1670.0" width="43.9" height="50.2" fill="rgb(85,85,85)"/>
<rect x="192.9" y="1670.0" width="43.9" height="50.2" fill="rgb(124,124,124)"/>
<rect x="236.2" y="1670.0" width="43.9" height="50.2" fill="rgb(156,156,156)"/>
<rect x="279.5" y="1670.0" width="43.9" height="50.2" fill="rgb(130,130,130)"/>
<rect x="322.8" y="1670.0" width="43.9" height="50.2" fill="rgb(98,98,98)"/>
<rect x="366.1" y="1670.0" width="43.9" height="50.2" fill="rgb(156,156,156)"/>
<rect x="409.4" y="1670.0" width="43.9" height="50.2" fill="rgb(215,215,215)"/>
<rect x="452.7" y="1670.0" width="43.9" height="50.2" fill="rgb(221,221,221)"/>
<rect x="496.0" y="1670.0" width="43.9" height="50.2" fill="rgb(221,221,221)"/>
</g>
<ellipse cx="268" cy="1412" rx="26" ry="60" fill="rgb(120,120,120)" filter="url(#sc0)"/>
</g></g>
<rect x="63.5" y="1174.5" width="432" height="495" fill="none" stroke="#b89a74" stroke-width="1"/>
<text x="1" y="62.6" style="font-family:Carlito, &quot;Liberation Sans&quot;, sans-serif;font-size:48px;fill:#000">a)</text>
<text x="0.5" y="658.5" style="font-family:Carlito, &quot;Liberation Sans&quot;, sans-serif;font-size:48px;fill:#000">b)</text>
<text x="-1" y="1234" style="font-family:Carlito, &quot;Liberation Sans&quot;, sans-serif;font-size:48px;fill:#000">c)</text>
<path d="M64.2,503.2 L64.2,276 M63,503.2 L274,503.2" stroke="#000" stroke-width="2.1" fill="none"/>
<path d="M63.8,255 L75.4,277.5 L52.5,277.5 Z" fill="#000"/>
<path d="M295.9,503.3 L273,491.7 L273,514.6 Z" fill="#000"/>
<text x="29" y="312" style="font-family:Carlito, &quot;Liberation Sans&quot;, sans-serif;font-size:42px;fill:#000">y</text>
<text x="234" y="529.6" style="font-family:Carlito, &quot;Liberation Sans&quot;, sans-serif;font-size:43px;fill:#000">x</text>
<line x1="291.3" y1="465" x2="296.1" y2="68" stroke="#1B2383" stroke-width="2.4"/>
<path d="M296.2,46 L307.9,69.6 L284.8,69.6 Z" fill="#1B2190"/>
<line x1="117.8" y1="257" x2="466" y2="257" stroke="#F2333F" stroke-width="2.3"/>
<path d="M488.3,256.9 L464.7,245.4 L464.7,268 Z" fill="#F5363F"/>
<rect x="63.7" y="550.9" width="262.3" height="33.7" fill="#000"/>
<rect x="74.1" y="1089.9" width="182.1" height="33.1" fill="#000"/>
<rect x="61.7" y="1680.6" width="372.5" height="33.7" fill="#000"/>
<g class="ch">
<line x1="786.7" y1="16.8" x2="1856.3" y2="16.8" stroke="#D9D9D9" stroke-width="2.6"/>
<line x1="786.7" y1="81.8" x2="1856.3" y2="81.8" stroke="#D9D9D9" stroke-width="2.6"/>
<line x1="786.7" y1="146.7" x2="1856.3" y2="146.7" stroke="#D9D9D9" stroke-width="2.6"/>
<line x1="786.7" y1="211.7" x2="1856.3" y2="211.7" stroke="#D9D9D9" stroke-width="2.6"/>
<line x1="786.7" y1="276.6" x2="1856.3" y2="276.6" stroke="#D9D9D9" stroke-width="2.6"/>
<line x1="786.7" y1="341.6" x2="1856.3" y2="341.6" stroke="#D9D9D9" stroke-width="2.6"/>
<line x1="786.7" y1="406.5" x2="1856.3" y2="406.5" stroke="#D9D9D9" stroke-width="2.6"/>
<line x1="1043.6" y1="16.8" x2="1043.6" y2="457.5" stroke="#D9D9D9" stroke-width="2.6"/>
<line x1="1314.5" y1="16.8" x2="1314.5" y2="457.5" stroke="#D9D9D9" stroke-width="2.6"/>
<line x1="1585.4" y1="16.8" x2="1585.4" y2="457.5" stroke="#D9D9D9" stroke-width="2.6"/>
<line x1="1856.3" y1="16.8" x2="1856.3" y2="457.5" stroke="#D9D9D9" stroke-width="2.6"/>
<line x1="772.7" y1="15.5" x2="772.7" y2="485.0" stroke="#000" stroke-width="2.7"/>
<line x1="759.2" y1="471.5" x2="1857.6" y2="471.5" stroke="#000" stroke-width="2.7"/>
<line x1="758.7" y1="16.8" x2="786.7" y2="16.8" stroke="#000" stroke-width="2.7"/>
<line x1="758.7" y1="81.8" x2="786.7" y2="81.8" stroke="#000" stroke-width="2.7"/>
<line x1="758.7" y1="146.7" x2="786.7" y2="146.7" stroke="#000" stroke-width="2.7"/>
<line x1="758.7" y1="211.7" x2="786.7" y2="211.7" stroke="#000" stroke-width="2.7"/>
<line x1="758.7" y1="276.6" x2="786.7" y2="276.6" stroke="#000" stroke-width="2.7"/>
<line x1="758.7" y1="341.6" x2="786.7" y2="341.6" stroke="#000" stroke-width="2.7"/>
<line x1="758.7" y1="406.5" x2="786.7" y2="406.5" stroke="#000" stroke-width="2.7"/>
<line x1="1043.6" y1="458.0" x2="1043.6" y2="485.0" stroke="#000" stroke-width="2.7"/>
<line x1="1314.5" y1="458.0" x2="1314.5" y2="485.0" stroke="#000" stroke-width="2.7"/>
<line x1="1585.4" y1="458.0" x2="1585.4" y2="485.0" stroke="#000" stroke-width="2.7"/>
<line x1="1856.3" y1="458.0" x2="1856.3" y2="485.0" stroke="#000" stroke-width="2.7"/>
<text x="732" y="30.0" text-anchor="end">38,000</text>
<text x="732" y="95.0" text-anchor="end">37,000</text>
<text x="732" y="159.9" text-anchor="end">36,000</text>
<text x="732" y="224.9" text-anchor="end">35,000</text>
<text x="732" y="289.8" text-anchor="end">34,000</text>
<text x="732" y="354.8" text-anchor="end">33,000</text>
<text x="732" y="419.7" text-anchor="end">32,000</text>
<text x="732" y="484.7" text-anchor="end">31,000</text>
<text x="772.7" y="541" text-anchor="middle">0</text>
<text x="1043.6" y="541" text-anchor="middle">20</text>
<text x="1314.5" y="541" text-anchor="middle">40</text>
<text x="1585.4" y="541" text-anchor="middle">60</text>
<text x="1856.3" y="541" text-anchor="middle">80</text>
<text x="1314.5" y="572.8" text-anchor="middle">Slice number</text>
<text transform="translate(592.5,244.2) rotate(-90)" x="0" y="0" text-anchor="middle">Intensity</text>
<polyline points="772.7,177.0 786.2,101.2 799.8,72.9 813.3,103.0 826.9,164.2 840.4,166.9 854.0,143.2 867.5,110.3 881.1,124.0 894.6,137.7 908.2,114.9 921.7,81.1 935.2,84.7 948.8,128.6 962.3,145.0 975.9,123.1 989.4,124.9 1003.0,150.5 1016.5,212.6 1030.1,240.9 1043.6,217.2 1057.1,156.9 1070.7,103.0 1084.2,129.5 1097.8,134.1 1111.3,121.3 1124.9,116.7 1138.4,152.3 1152.0,153.2 1165.5,110.3 1179.1,85.7 1192.6,94.8 1206.1,138.6 1219.7,166.0 1233.2,234.5 1246.8,234.5 1260.3,222.6 1273.9,186.1 1287.4,166.9 1301.0,162.4 1314.5,156.9 1328.0,166.9 1341.6,156.9 1355.1,149.6 1368.7,164.2 1382.2,204.4 1395.8,230.9 1409.3,245.5 1422.9,283.8 1436.4,303.0 1450.0,290.2 1463.5,207.1 1477.0,123.1 1490.6,85.7 1504.1,119.5 1517.7,186.1 1531.2,253.7 1544.8,253.7 1558.3,243.7 1571.9,200.7 1585.4,177.0 1598.9,140.5 1612.5,164.2 1626.0,198.0 1639.6,204.4 1653.1,219.9 1666.7,234.5 1680.2,259.2 1693.8,253.7 1707.3,249.1 1720.8,236.3 1734.4,228.1 1747.9,187.9 1761.5,147.8" fill="none" stroke="#F04147" stroke-width="8.6" stroke-linejoin="round" stroke-linecap="round"/>
<polyline points="772.7,190.7 786.2,218.1 799.8,201.6 813.3,184.3 826.9,192.5 840.4,201.6 854.0,200.7 867.5,146.8 881.1,165.1 894.6,179.7 908.2,198.9 921.7,156.0 935.2,163.3 948.8,233.6 962.3,263.7 975.9,230.0 989.4,136.8 1003.0,88.4 1016.5,75.6 1030.1,116.7 1043.6,114.0 1057.1,91.1 1070.7,68.3 1084.2,84.7 1097.8,127.7 1111.3,134.1 1124.9,141.4 1138.4,133.2 1152.0,115.8 1165.5,122.2 1179.1,123.1 1192.6,186.1 1206.1,232.7 1219.7,222.6 1233.2,196.2 1246.8,222.6 1260.3,239.1 1273.9,208.0 1287.4,188.9 1301.0,277.4 1314.5,334.1 1328.0,314.9 1341.6,251.9 1355.1,226.3 1368.7,246.4 1382.2,234.5 1395.8,218.1 1409.3,156.9 1422.9,141.4 1436.4,124.0 1450.0,101.2 1463.5,62.8 1477.0,75.6 1490.6,113.1 1504.1,163.3 1517.7,152.3 1531.2,144.1 1544.8,144.1 1558.3,183.4 1571.9,193.4 1585.4,160.5 1598.9,124.0 1612.5,125.8 1626.0,144.1 1639.6,139.5 1653.1,165.1 1666.7,180.6 1680.2,154.2 1693.8,127.7 1707.3,171.5 1720.8,227.2 1734.4,240.0" fill="none" stroke="#1B2574" stroke-width="8.6" stroke-linejoin="round" stroke-linecap="round"/>
<line x1="1938" y1="211" x2="2012" y2="211" stroke="#F04147" stroke-width="8.6" stroke-linecap="round"/>
<line x1="1938" y1="286" x2="2012" y2="286" stroke="#1B2574" stroke-width="8.6" stroke-linecap="round"/>
<text x="2020" y="224.5">X</text>
<text x="2020" y="299.5">Y</text>
<line x1="790.5" y1="606.9" x2="1845.1" y2="606.9" stroke="#D9D9D9" stroke-width="2.6"/>
<line x1="790.5" y1="671.0" x2="1845.1" y2="671.0" stroke="#D9D9D9" stroke-width="2.6"/>
<line x1="790.5" y1="735.0" x2="1845.1" y2="735.0" stroke="#D9D9D9" stroke-width="2.6"/>
<line x1="790.5" y1="799.1" x2="1845.1" y2="799.1" stroke="#D9D9D9" stroke-width="2.6"/>
<line x1="790.5" y1="863.1" x2="1845.1" y2="863.1" stroke="#D9D9D9" stroke-width="2.6"/>
<line x1="790.5" y1="927.2" x2="1845.1" y2="927.2" stroke="#D9D9D9" stroke-width="2.6"/>
<line x1="790.5" y1="991.2" x2="1845.1" y2="991.2" stroke="#D9D9D9" stroke-width="2.6"/>
<line x1="954.6" y1="606.9" x2="954.6" y2="1041.3" stroke="#D9D9D9" stroke-width="2.6"/>
<line x1="1132.7" y1="606.9" x2="1132.7" y2="1041.3" stroke="#D9D9D9" stroke-width="2.6"/>
<line x1="1310.8" y1="606.9" x2="1310.8" y2="1041.3" stroke="#D9D9D9" stroke-width="2.6"/>
<line x1="1488.9" y1="606.9" x2="1488.9" y2="1041.3" stroke="#D9D9D9" stroke-width="2.6"/>
<line x1="1667.0" y1="606.9" x2="1667.0" y2="1041.3" stroke="#D9D9D9" stroke-width="2.6"/>
<line x1="1845.1" y1="606.9" x2="1845.1" y2="1041.3" stroke="#D9D9D9" stroke-width="2.6"/>
<line x1="776.5" y1="605.6" x2="776.5" y2="1068.8" stroke="#000" stroke-width="2.7"/>
<line x1="763.0" y1="1055.3" x2="1846.4" y2="1055.3" stroke="#000" stroke-width="2.7"/>
<line x1="762.5" y1="606.9" x2="790.5" y2="606.9" stroke="#000" stroke-width="2.7"/>
<line x1="762.5" y1="671.0" x2="790.5" y2="671.0" stroke="#000" stroke-width="2.7"/>
<line x1="762.5" y1="735.0" x2="790.5" y2="735.0" stroke="#000" stroke-width="2.7"/>
<line x1="762.5" y1="799.1" x2="790.5" y2="799.1" stroke="#000" stroke-width="2.7"/>
<line x1="762.5" y1="863.1" x2="790.5" y2="863.1" stroke="#000" stroke-width="2.7"/>
<line x1="762.5" y1="927.2" x2="790.5" y2="927.2" stroke="#000" stroke-width="2.7"/>
<line x1="762.5" y1="991.2" x2="790.5" y2="991.2" stroke="#000" stroke-width="2.7"/>
<line x1="954.6" y1="1041.8" x2="954.6" y2="1068.8" stroke="#000" stroke-width="2.7"/>
<line x1="1132.7" y1="1041.8" x2="1132.7" y2="1068.8" stroke="#000" stroke-width="2.7"/>
<line x1="1310.8" y1="1041.8" x2="1310.8" y2="1068.8" stroke="#000" stroke-width="2.7"/>
<line x1="1488.9" y1="1041.8" x2="1488.9" y2="1068.8" stroke="#000" stroke-width="2.7"/>
<line x1="1667.0" y1="1041.8" x2="1667.0" y2="1068.8" stroke="#000" stroke-width="2.7"/>
<line x1="1845.1" y1="1041.8" x2="1845.1" y2="1068.8" stroke="#000" stroke-width="2.7"/>
<text x="737.5" y="620.1" text-anchor="end">38,000</text>
<text x="737.5" y="684.2" text-anchor="end">37,000</text>
<text x="737.5" y="748.2" text-anchor="end">36,000</text>
<text x="737.5" y="812.3" text-anchor="end">35,000</text>
<text x="737.5" y="876.3" text-anchor="end">34,000</text>
<text x="737.5" y="940.4" text-anchor="end">33,000</text>
<text x="737.5" y="1004.4" text-anchor="end">32,000</text>
<text x="737.5" y="1068.5" text-anchor="end">31,000</text>
<text x="776.5" y="1123.7" text-anchor="middle">0</text>
<text x="954.6" y="1123.7" text-anchor="middle">20</text>
<text x="1132.7" y="1123.7" text-anchor="middle">40</text>
<text x="1310.8" y="1123.7" text-anchor="middle">60</text>
<text x="1488.9" y="1123.7" text-anchor="middle">80</text>
<text x="1667.0" y="1123.7" text-anchor="middle">100</text>
<text x="1845.1" y="1123.7" text-anchor="middle">120</text>
<text x="1310.8" y="1156.2" text-anchor="middle">Slice number</text>
<text transform="translate(595.5,831.1) rotate(-90)" x="0" y="0" text-anchor="middle">Intensity</text>
<polyline points="776.5,901.3 785.4,803.0 794.3,770.2 803.2,746.8 812.1,770.2 821.0,819.3 829.9,868.5 838.8,876.7 847.7,835.7 856.6,763.2 865.5,693.0 874.5,698.8 883.4,737.4 892.3,751.5 901.2,759.7 910.1,771.4 919.0,756.2 927.9,716.4 936.8,677.8 945.7,751.5 954.6,749.1 963.5,736.3 972.4,701.2 981.3,735.1 990.2,766.7 999.1,785.4 1008.0,807.6 1016.9,807.6 1025.8,738.6 1034.7,669.6 1043.7,668.4 1052.6,765.5 1061.5,812.3 1070.4,841.6 1079.3,784.2 1088.2,730.4 1097.1,696.5 1106.0,711.7 1114.9,730.4 1123.8,682.4 1132.7,675.4 1141.6,749.1 1150.5,810.0 1159.4,839.2 1168.3,843.9 1177.2,835.7 1186.1,791.3 1195.0,806.5 1203.9,833.4 1212.8,865.0 1221.8,813.5 1230.7,849.8 1239.6,875.5 1248.5,849.8 1257.4,786.6 1266.3,762.0 1275.2,791.3 1284.1,787.8 1293.0,784.2 1301.9,764.4 1310.8,791.3 1319.7,774.9 1328.6,762.0 1337.5,749.1 1346.4,784.2 1355.3,862.6 1364.2,941.0 1373.1,923.5 1382.0,918.8 1390.9,866.2 1399.8,898.9 1408.8,888.4 1417.7,900.1 1426.6,911.8 1435.5,895.4 1444.4,879.0 1453.3,833.4 1462.2,833.4 1471.1,839.2 1480.0,824.0 1488.9,779.6 1497.8,786.6 1506.7,835.7 1515.6,855.6 1524.5,843.9 1533.4,777.2 1542.3,751.5 1551.2,696.5 1560.1,710.5 1569.0,693.0 1577.9,697.7 1586.9,681.3 1595.8,730.4 1604.7,735.1 1613.6,765.5 1622.5,800.6 1631.4,817.0 1640.3,819.3 1649.2,818.2 1658.1,853.3 1667.0,833.4 1675.9,806.5 1684.8,795.9 1693.7,769.0 1702.6,718.7 1711.5,673.1 1720.4,707.0 1729.3,773.7 1738.2,778.4 1747.1,732.8 1756.0,684.8 1765.0,736.3" fill="none" stroke="#F04147" stroke-width="8.6" stroke-linejoin="round" stroke-linecap="round"/>
<polyline points="776.5,908.3 785.4,917.6 794.3,902.4 803.2,887.2 812.1,841.6 821.0,828.7 829.9,764.4 838.8,731.6 847.7,717.5 856.6,755.0 865.5,729.2 874.5,769.0 883.4,744.5 892.3,779.6 901.2,763.2 910.1,787.8 919.0,791.3 927.9,764.4 936.8,790.1 945.7,828.7 954.6,903.6 963.5,970.3 972.4,971.5 981.3,898.9 990.2,825.2 999.1,832.2 1008.0,838.1 1016.9,843.9 1025.8,822.9 1034.7,818.2 1043.7,817.0 1052.6,820.5 1061.5,795.9 1070.4,780.7 1079.3,732.8 1088.2,707.0 1097.1,749.1 1106.0,807.6 1114.9,866.2 1123.8,805.3 1132.7,746.8 1141.6,743.3 1150.5,774.9 1159.4,785.4 1168.3,749.1 1177.2,772.5 1186.1,849.8 1195.0,882.5 1203.9,893.1 1212.8,842.7 1221.8,869.7 1230.7,839.2 1239.6,831.0 1248.5,791.3 1257.4,798.3 1266.3,794.8 1275.2,772.5 1284.1,749.1 1293.0,774.9 1301.9,831.0 1310.8,812.3 1319.7,779.6 1328.6,751.5 1337.5,745.6 1346.4,728.1 1355.3,715.2 1364.2,730.4 1373.1,755.0 1382.0,784.2 1390.9,840.4 1399.8,908.3 1408.8,911.8 1417.7,890.7 1426.6,842.7 1435.5,852.1 1444.4,828.7 1453.3,795.9 1462.2,721.1 1471.1,643.8 1480.0,641.5 1488.9,695.3 1497.8,751.5 1506.7,748.0 1515.6,719.9 1524.5,731.6 1533.4,760.8 1542.3,774.9 1551.2,795.9 1560.1,795.9 1569.0,743.3 1577.9,690.6 1586.9,639.1 1595.8,717.5 1604.7,728.1 1613.6,744.5 1622.5,737.4 1631.4,784.2 1640.3,784.2 1649.2,751.5 1658.1,729.2 1667.0,725.7 1675.9,751.5 1684.8,770.2 1693.7,744.5 1702.6,695.3 1711.5,647.3 1720.4,643.8 1729.3,613.4 1738.2,615.7 1747.1,608.7 1756.0,660.2 1765.0,714.0 1773.9,766.7 1782.8,729.2 1791.7,646.2 1800.6,619.3 1809.5,693.0 1818.4,739.8 1827.3,762.0" fill="none" stroke="#1B2574" stroke-width="8.6" stroke-linejoin="round" stroke-linecap="round"/>
<line x1="1936" y1="801.5" x2="2011" y2="801.5" stroke="#F04147" stroke-width="8.6" stroke-linecap="round"/>
<line x1="1936" y1="877" x2="2011" y2="877" stroke="#1B2574" stroke-width="8.6" stroke-linecap="round"/>
<text x="2018.5" y="815.0">X</text>
<text x="2018.5" y="890.5">Y</text>
<line x1="784.9" y1="1218.0" x2="1826.2" y2="1218.0" stroke="#D9D9D9" stroke-width="2.6"/>
<line x1="784.9" y1="1274.4" x2="1826.2" y2="1274.4" stroke="#D9D9D9" stroke-width="2.6"/>
<line x1="784.9" y1="1330.7" x2="1826.2" y2="1330.7" stroke="#D9D9D9" stroke-width="2.6"/>
<line x1="784.9" y1="1387.1" x2="1826.2" y2="1387.1" stroke="#D9D9D9" stroke-width="2.6"/>
<line x1="784.9" y1="1443.4" x2="1826.2" y2="1443.4" stroke="#D9D9D9" stroke-width="2.6"/>
<line x1="784.9" y1="1499.8" x2="1826.2" y2="1499.8" stroke="#D9D9D9" stroke-width="2.6"/>
<line x1="784.9" y1="1556.1" x2="1826.2" y2="1556.1" stroke="#D9D9D9" stroke-width="2.6"/>
<line x1="1034.7" y1="1218.0" x2="1034.7" y2="1598.5" stroke="#D9D9D9" stroke-width="2.6"/>
<line x1="1298.6" y1="1218.0" x2="1298.6" y2="1598.5" stroke="#D9D9D9" stroke-width="2.6"/>
<line x1="1562.4" y1="1218.0" x2="1562.4" y2="1598.5" stroke="#D9D9D9" stroke-width="2.6"/>
<line x1="1826.2" y1="1218.0" x2="1826.2" y2="1598.5" stroke="#D9D9D9" stroke-width="2.6"/>
<line x1="770.9" y1="1216.7" x2="770.9" y2="1626.0" stroke="#000" stroke-width="2.7"/>
<line x1="757.4" y1="1612.5" x2="1827.5" y2="1612.5" stroke="#000" stroke-width="2.7"/>
<line x1="756.9" y1="1218.0" x2="784.9" y2="1218.0" stroke="#000" stroke-width="2.7"/>
<line x1="756.9" y1="1274.4" x2="784.9" y2="1274.4" stroke="#000" stroke-width="2.7"/>
<line x1="756.9" y1="1330.7" x2="784.9" y2="1330.7" stroke="#000" stroke-width="2.7"/>
<line x1="756.9" y1="1387.1" x2="784.9" y2="1387.1" stroke="#000" stroke-width="2.7"/>
<line x1="756.9" y1="1443.4" x2="784.9" y2="1443.4" stroke="#000" stroke-width="2.7"/>
<line x1="756.9" y1="1499.8" x2="784.9" y2="1499.8" stroke="#000" stroke-width="2.7"/>
<line x1="756.9" y1="1556.1" x2="784.9" y2="1556.1" stroke="#000" stroke-width="2.7"/>
<line x1="1034.7" y1="1599.0" x2="1034.7" y2="1626.0" stroke="#000" stroke-width="2.7"/>
<line x1="1298.6" y1="1599.0" x2="1298.6" y2="1626.0" stroke="#000" stroke-width="2.7"/>
<line x1="1562.4" y1="1599.0" x2="1562.4" y2="1626.0" stroke="#000" stroke-width="2.7"/>
<line x1="1826.2" y1="1599.0" x2="1826.2" y2="1626.0" stroke="#000" stroke-width="2.7"/>
<text x="731.5" y="1231.2" text-anchor="end">38,000</text>
<text x="731.5" y="1287.6" text-anchor="end">37,000</text>
<text x="731.5" y="1343.9" text-anchor="end">36,000</text>
<text x="731.5" y="1400.3" text-anchor="end">35,000</text>
<text x="731.5" y="1456.6" text-anchor="end">34,000</text>
<text x="731.5" y="1513.0" text-anchor="end">33,000</text>
<text x="731.5" y="1569.3" text-anchor="end">32,000</text>
<text x="731.5" y="1625.7" text-anchor="end">31,000</text>
<text x="770.9" y="1681.5" text-anchor="middle">0</text>
<text x="1034.7" y="1681.5" text-anchor="middle">20</text>
<text x="1298.6" y="1681.5" text-anchor="middle">40</text>
<text x="1562.4" y="1681.5" text-anchor="middle">60</text>
<text x="1826.2" y="1681.5" text-anchor="middle">80</text>
<text x="1298.5" y="1745.6" text-anchor="middle">Slice number</text>
<text transform="translate(590,1415.2) rotate(-90)" x="0" y="0" text-anchor="middle">Intensity</text>
<polyline points="770.9,1434.7 784.1,1400.5 797.3,1385.1 810.5,1372.2 823.7,1361.1 836.9,1347.4 850.0,1344.8 863.2,1352.5 876.4,1383.4 889.6,1413.3 902.8,1417.6 916.0,1401.3 929.2,1385.9 942.4,1373.1 955.6,1365.4 968.8,1366.2 981.9,1376.5 995.1,1387.6 1008.3,1397.9 1021.5,1423.6 1034.7,1454.4 1047.9,1454.4 1061.1,1441.6 1074.3,1445.0 1087.5,1482.7 1100.7,1520.3 1113.8,1523.8 1127.0,1518.6 1140.2,1515.2 1153.4,1543.5 1166.6,1581.1 1179.8,1586.3 1193.0,1534.0 1206.2,1482.7 1219.4,1447.6 1232.5,1426.2 1245.7,1409.9 1258.9,1393.6 1272.1,1375.7 1285.3,1358.5 1298.5,1351.7 1311.7,1361.1 1324.9,1373.9 1338.1,1380.8 1351.3,1380.8 1364.4,1373.9 1377.6,1362.0 1390.8,1361.1 1404.0,1366.2 1417.2,1370.5 1430.4,1373.9 1443.6,1398.8 1456.8,1439.9 1470.0,1451.8 1483.2,1422.7 1496.3,1387.6 1509.5,1391.1" fill="none" stroke="#F04147" stroke-width="8.6" stroke-linejoin="round" stroke-linecap="round"/>
<polyline points="770.9,1397.9 784.1,1414.2 797.3,1411.6 810.5,1400.5 823.7,1403.9 836.9,1424.5 850.0,1443.3 863.2,1433.0 876.4,1418.5 889.6,1420.2 902.8,1429.6 916.0,1443.3 929.2,1462.1 942.4,1458.7 955.6,1442.4 968.8,1430.4 981.9,1409.0 995.1,1384.2 1008.3,1343.1 1021.5,1344.0 1034.7,1366.2 1047.9,1391.9 1061.1,1421.0 1074.3,1456.1 1087.5,1499.8 1100.7,1505.8 1113.8,1522.9 1127.0,1527.2 1140.2,1551.2 1153.4,1568.3 1166.6,1575.1 1179.8,1566.6 1193.0,1545.2 1206.2,1548.6 1219.4,1546.9 1232.5,1544.3 1245.7,1530.6 1258.9,1544.3 1272.1,1557.2 1285.3,1587.1 1298.5,1593.1 1311.7,1582.0 1324.9,1542.6 1338.1,1498.1 1351.3,1472.4 1364.4,1433.9 1377.6,1401.3 1390.8,1369.7 1404.0,1353.4 1417.2,1356.8 1430.4,1368.8 1443.6,1369.7 1456.8,1383.4 1470.0,1406.5 1483.2,1421.0 1496.3,1420.2 1509.5,1397.9 1522.7,1383.4 1535.9,1385.1 1549.1,1405.6 1562.3,1433.9 1575.5,1432.2 1588.7,1418.5 1601.9,1408.2 1615.1,1397.9" fill="none" stroke="#1B2574" stroke-width="8.6" stroke-linejoin="round" stroke-linecap="round"/>
<line x1="1907" y1="1380.4" x2="1982" y2="1380.4" stroke="#F04147" stroke-width="8.6" stroke-linecap="round"/>
<line x1="1907" y1="1455.8" x2="1982" y2="1455.8" stroke="#1B2574" stroke-width="8.6" stroke-linecap="round"/>
<text x="1990" y="1393.9">X</text>
<text x="1990" y="1469.3">Y</text>
</g>
</svg>
</body></html>
